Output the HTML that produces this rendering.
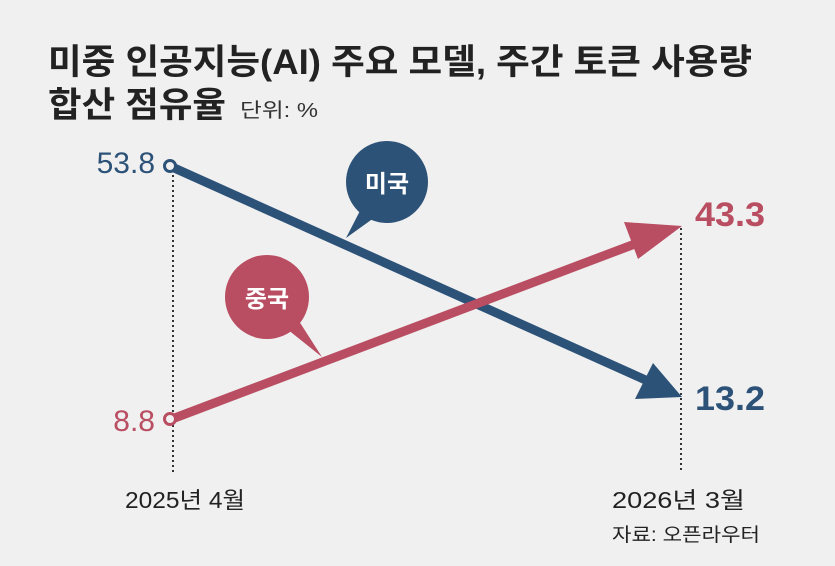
<!DOCTYPE html>
<html><head><meta charset="utf-8"><style>
body{margin:0;background:#f0f0f0;}
svg{display:block;font-family:"Liberation Sans","Noto Sans CJK KR",sans-serif;}
</style></head><body>
<svg width="835" height="566" viewBox="0 0 835 566">
<rect width="835" height="566" fill="#f0f0f0"/>
<text x="48" y="74" font-size="35" font-weight="bold" fill="#222" textLength="704" lengthAdjust="spacingAndGlyphs">미중 인공지능(AI) 주요 모델, 주간 토큰 사용량</text>
<text x="48" y="117" font-size="35" font-weight="bold" fill="#222" textLength="178" lengthAdjust="spacingAndGlyphs">합산 점유율</text>
<text x="240" y="117" font-size="20" fill="#333" textLength="78" lengthAdjust="spacingAndGlyphs">단위: %</text>
<line x1="173" y1="170" x2="173" y2="472" stroke="#333" stroke-width="2" stroke-dasharray="2,3"/>
<line x1="681" y1="228" x2="681" y2="472" stroke="#333" stroke-width="2" stroke-dasharray="2,3"/>
<line x1="172" y1="167" x2="650" y2="382" stroke="#2d5278" stroke-width="9"/>
<polygon points="682,397 635,399 653,363" fill="#2d5278"/>
<circle cx="170" cy="166" r="5.5" fill="#f0f0f0" stroke="#2d5278" stroke-width="3"/>
<line x1="172" y1="419" x2="648" y2="239" stroke="#b94d62" stroke-width="9"/>
<polygon points="682,226 638,259 624,222" fill="#b94d62"/>
<circle cx="170" cy="419" r="5.5" fill="#f0f0f0" stroke="#b94d62" stroke-width="3"/>
<circle cx="387" cy="182" r="41" fill="#2d5278"/>
<polygon points="363,205 378,215 346,238" fill="#2d5278"/>
<text x="387" y="192" font-size="24" font-weight="bold" fill="#fff" text-anchor="middle">미국</text>
<circle cx="267" cy="297" r="42" fill="#b94d62"/>
<polygon points="282,325 297,318 322,357" fill="#b94d62"/>
<text x="267" y="307" font-size="24" font-weight="bold" fill="#fff" text-anchor="middle">중국</text>
<text x="155" y="173" font-size="30" fill="#2d5278" text-anchor="end">53.8</text>
<text x="155" y="431" font-size="30" fill="#b94d62" text-anchor="end">8.8</text>
<text x="695" y="226" font-size="34" font-weight="bold" fill="#b94d62" textLength="70" lengthAdjust="spacingAndGlyphs">43.3</text>
<text x="695" y="410" font-size="34" font-weight="bold" fill="#2d5278" textLength="70" lengthAdjust="spacingAndGlyphs">13.2</text>
<text x="125" y="508" font-size="23" fill="#222" textLength="120" lengthAdjust="spacingAndGlyphs">2025년 4월</text>
<text x="612" y="508" font-size="23" fill="#222" textLength="133" lengthAdjust="spacingAndGlyphs">2026년 3월</text>
<text x="612" y="541" font-size="19" fill="#222" textLength="148" lengthAdjust="spacingAndGlyphs">자료: 오픈라우터</text>
</svg>
</body></html>
